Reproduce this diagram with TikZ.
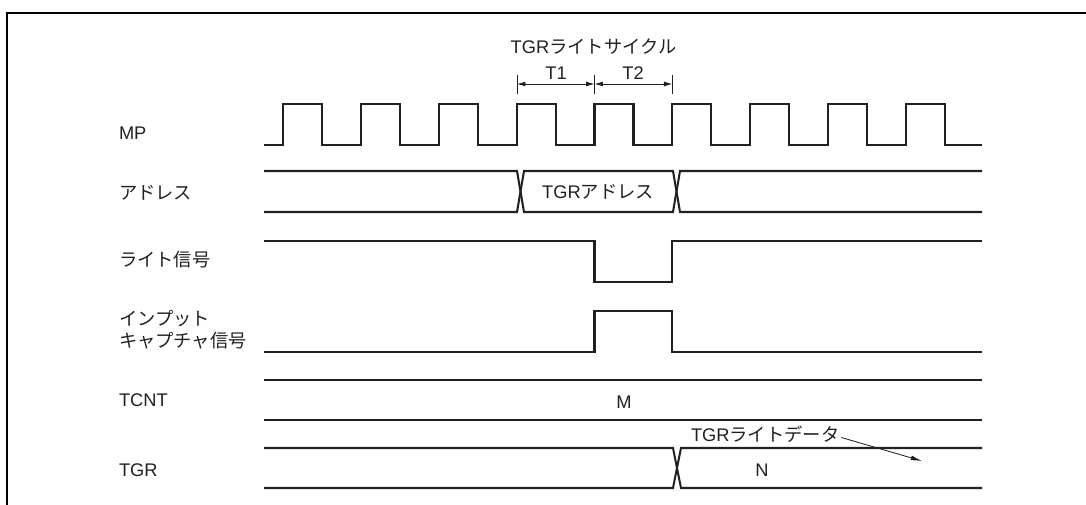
\documentclass[tikz,border=0pt]{standalone}
\usepackage{fontspec}
\setmainfont{Liberation Sans}
\newfontfamily\jp{Noto Sans CJK JP}
\usetikzlibrary{arrows.meta}
\definecolor{ink}{RGB}{35,31,32}

\begin{document}
\begin{tikzpicture}[x=0.025cm, y=-0.025cm, line width=1.45pt, draw=ink, text=ink,
		every node/.style={inner sep=0pt, font=\fontsize{13}{15.5}\selectfont},
		lbl/.style={anchor=west, align=left},
		dim/.style={line width=0.6pt, {Latex[length=6pt,width=3.5pt]}-{Latex[length=6pt,width=3.5pt]}}]
		
		\useasboundingbox (0,0) rectangle (1086,505);
		
		% Frame
		\draw[black, line width=1.7pt] (7,506) -- (7,13) -- (1087,13);
		
		% Signal names
		\node[lbl] (mp) at (118,133) {MP};
		\node[lbl] (addr) at (118,193) {\jp アドレス};
		\node[lbl] (wr) at (118,260) {\jp ライト信号};
		\node[lbl] (icap) at (118,329.5) {\jp インプット\\\jp キャプチャ信号};
		\node[lbl] (tcnt) at (118,400) {TCNT};
		\node[lbl] (tgr) at (118,470) {TGR};
		
		% Write cycle T1, T2
		\node (cyc) at (593.5,47) {TGR{\jp ライトサイクル}};
		\draw[line width=0.6pt] (517,75) -- (517,94);
		\draw[line width=0.6pt] (594.5,75) -- (594.5,94);
		\draw[line width=0.6pt] (672.4,75) -- (672.4,94);
		\draw[dim] (517,84) -- (594.5,84);
		\draw[dim] (594.5,84) -- (672.4,84);
		\node (t1) at (556,73) {T1};
		\node (t2) at (633,73) {T2};
		
		% MP clock
		\draw (264,145) \foreach \k in {0,...,8} {
			-- ({283+77.875*\k},145) -- ({283+77.875*\k},104)
			-- ({322+77.875*\k},104) -- ({322+77.875*\k},145)} -- (982,145);
		
		% Address bus
		\draw (264,171) -- (517,171) -- (524,212) -- (673,212) -- (680,171) -- (982,171);
		\draw (264,212) -- (517,212) -- (524,171) -- (673,171) -- (680,212) -- (982,212);
		\node (tgraddr) at (598,192) {TGR{\jp アドレス}};
		
		% Write signal
		\draw (264,241) -- (594.5,241) -- (594.5,282) -- (672.4,282) -- (672.4,241) -- (982,241);
		
		% Input capture signal
		\draw (264,352) -- (594.5,352) -- (594.5,311) -- (672.4,311) -- (672.4,352) -- (982,352);
		
		% TCNT
		\draw (264,380) -- (982,380);
		\draw (264,420) -- (982,420);
		\node (m) at (624,402) {M};
		
		% TGR
		\draw (264,448) -- (673,448) -- (681,488) -- (982,488);
		\draw (264,488) -- (673,488) -- (681,448) -- (982,448);
		\node (n) at (762,470) {N};
		\node[anchor=west] (wdata) at (690,434.5) {TGR{\jp ライトデータ}};
		\coordinate (wtip) at (922,461);
		\draw[line width=0.6pt, -{Latex[length=8pt,width=3.5pt]}] (wdata.east) ++(1,3) -- (wtip);
		
	\end{tikzpicture}
\end{document}
